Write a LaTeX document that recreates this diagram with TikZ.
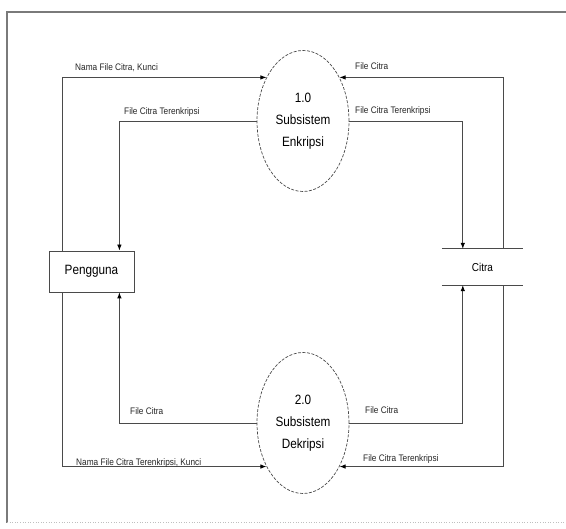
\documentclass[tikz,border=0pt]{standalone}
\usepackage{fontspec}
\setmainfont{Liberation Sans}
\newfontfamily\narrowsans[FakeStretch=0.87]{Liberation Sans}
\usetikzlibrary{shapes.geometric,arrows.meta}
\definecolor{linegray}{HTML}{4A4A4A}
\definecolor{framegray}{HTML}{7A7A7A}
\begin{document}
\begin{tikzpicture}[x=1pt,y=1pt,
  process/.style={ellipse,draw=linegray,dashed,dash pattern=on 3pt off 1.5pt,
    line width=0.7pt,minimum width=92pt,minimum height=141pt,inner sep=0pt,
    align=center,font=\narrowsans\fontsize{13.5}{22}\selectfont},
  entity/.style={rectangle,draw=linegray,line width=0.8pt,minimum width=85pt,
    minimum height=41pt,inner sep=0pt,font=\narrowsans\fontsize{13.5}{16}\selectfont},
  store/.style={rectangle,minimum width=81pt,minimum height=36pt,inner sep=0pt,
    font=\narrowsans\fontsize{11.5}{14}\selectfont},
  flow/.style={draw=linegray,line width=0.8pt,
    -{Latex[length=6pt,width=4.5pt,black]}},
  flowlabel/.style={anchor=base west,inner sep=0pt,
    font=\narrowsans\fontsize{9.5}{11}\selectfont,text=black!85}]
  \useasboundingbox (0,0) rectangle (566,529);

  % frame of the sheet
  \draw[framegray,line width=1.4pt] (7,6) -- (7,517) -- (566,517);
  \draw[black!25,line width=0.6pt,dotted] (7,7) -- (566,7);

  % processes, external entity and data store
  \node[process] (enk) at (303,408) {1.0\\Subsistem\\Enkripsi};
  \node[process] (dek) at (303,106) {2.0\\Subsistem\\Dekripsi};
  \node[entity] (user) at (91.5,257.5) {Pengguna};
  \node[store] (citra) at (482.5,262) {Citra};
  \draw[linegray,line width=0.8pt] (citra.north west) -- (citra.north east);
  \draw[linegray,line width=0.8pt] (citra.south west) -- (citra.south east);

  % attachment points on the entity and the store
  \coordinate (uOutT) at ([xshift=14pt]user.north west);
  \coordinate (uInT)  at ([xshift=-15pt]user.north east);
  \coordinate (uOutB) at ([xshift=14pt]user.south west);
  \coordinate (uInB)  at ([xshift=-15pt]user.south east);
  \coordinate (cInT)  at ([xshift=21pt]citra.north west);
  \coordinate (cOutT) at ([xshift=-20pt]citra.north east);
  \coordinate (cInB)  at ([xshift=21pt]citra.south west);
  \coordinate (cOutB) at ([xshift=-20pt]citra.south east);

  % encryption subsystem flows
  \draw[flow] (uOutT) |- (enk.130);
  \draw[flow] (enk.west) -| (uInT);
  \draw[flow] (cOutT) |- (enk.50);
  \draw[flow] (enk.east) -| (cInT);

  % decryption subsystem flows
  \draw[flow] (uOutB) |- (dek.-130);
  \draw[flow] (dek.west) -| (uInB);
  \draw[flow] (dek.east) -| (cInB);
  \draw[flow] (cOutB) |- (dek.-50);

  % flow labels
  \node[flowlabel] (l1) at (75,458) {Nama File Citra, Kunci};
  \node[flowlabel] (l2) at (124,414) {File Citra Terenkripsi};
  \node[flowlabel] (l3) at (355,459) {File Citra};
  \node[flowlabel] (l4) at (355,415) {File Citra Terenkripsi};
  \node[flowlabel] (l5) at (130,114) {File Citra};
  \node[flowlabel] (l6) at (76,63) {Nama File Citra Terenkripsi, Kunci};
  \node[flowlabel] (l7) at (365,115) {File Citra};
  \node[flowlabel] (l8) at (363,67) {File Citra Terenkripsi};
\end{tikzpicture}
\end{document}
